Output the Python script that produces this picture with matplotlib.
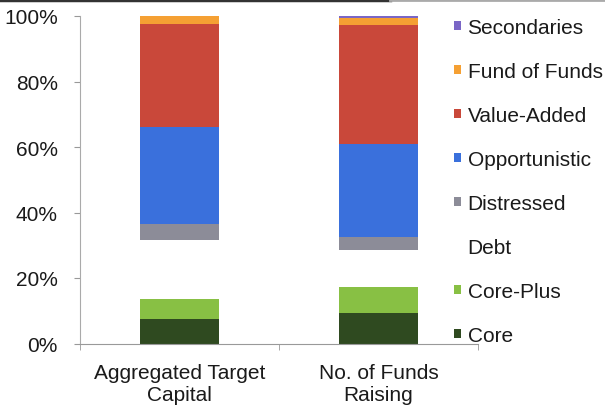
import matplotlib
matplotlib.use("Agg")
import matplotlib.pyplot as plt
import numpy as np
from matplotlib.patches import Patch

plt.rcParams['font.family'] = ['Liberation Sans', 'DejaVu Sans']

categories = ["Aggregated Target\nCapital", "No. of Funds\nRaising"]
series_names = ["Core", "Core-Plus", "Debt", "Distressed", "Opportunistic",
                "Value-Added", "Fund of Funds", "Secondaries"]
core          = [7.6, 9.2]
core_plus     = [6.1, 8.0]
debt          = [17.9, 11.4]
distressed    = [4.9, 3.8]
opportunistic = [29.5, 28.5]
value_added   = [31.6, 36.4]
fund_of_funds = [2.4, 2.0]
secondaries   = [0.0, 0.7]
y_ticks = [0, 20, 40, 60, 80, 100]
y_tick_labels = ["0%", "20%", "40%", "60%", "80%", "100%"]

values = [core, core_plus, debt, distressed, opportunistic, value_added,
          fund_of_funds, secondaries]
colors = ["#2f4a20", "#88c044", "#ffffff", "#8c8c98", "#3a70dc",
          "#c9483a", "#f5a033", "#7a66c6"]

fig = plt.figure(figsize=(6.05, 4.06), dpi=100)
ax = fig.add_axes([80/605, 61.5/406, 398/605, 327.5/406])

x = np.arange(len(categories))
bottom = np.zeros(len(categories))
handles = []
for name, vals, col in zip(series_names, values, colors):
    vals = np.array(vals)
    ax.bar(x, vals, 0.4, bottom=bottom, color=col, edgecolor='none')
    bottom += vals
    handles.append(Patch(facecolor=col, edgecolor='none', label=name))

ax.set_xlim(-0.5, 1.5)
ax.set_ylim(0, 100)
ax.set_yticks(y_ticks)
ax.set_yticklabels(y_tick_labels)
ax.set_xticks(x)
ax.set_xticklabels(categories)
ax.set_xticks([-0.5, 0.5, 1.5], minor=True)
ax.tick_params(axis='x', which='major', length=0, labelsize=15, pad=14, labelcolor='#1a1a1a')
ax.tick_params(axis='x', which='minor', length=4, color='#999999', direction='out')
ax.tick_params(axis='y', length=4, color='#999999', labelsize=15, labelcolor='#1a1a1a', pad=12)
for s in ['top', 'right']:
    ax.spines[s].set_visible(False)
ax.spines['left'].set_color('#aaaaaa')
ax.spines['bottom'].set_color('#999999')

labels_legend = ["Secondaries", "Fund of Funds", "Value-Added", "Opportunistic",
                 "Distressed", "Debt", "Core-Plus", "Core"]
leg = ax.legend(handles[::-1], labels_legend, loc='upper left',
                bbox_to_anchor=(454/605, 1 - 19/406), bbox_transform=fig.transFigure,
                frameon=False, fontsize=15, handlelength=0.35, handleheight=0.35,
                handletextpad=0.3, labelspacing=1.2, borderaxespad=0, borderpad=0)
for t in leg.get_texts():
    t.set_color('#1a1a1a')

# top border artifact
fig.add_artist(plt.Line2D([0, 390/605], [1 - 1/406, 1 - 1/406], transform=fig.transFigure,
                          color='#333333', lw=2.5))
fig.add_artist(plt.Line2D([390/605, 1], [1 - 1/406, 1 - 1/406], transform=fig.transFigure,
                          color='#aaaaaa', lw=2))

fig.savefig("out.png", dpi=100)
